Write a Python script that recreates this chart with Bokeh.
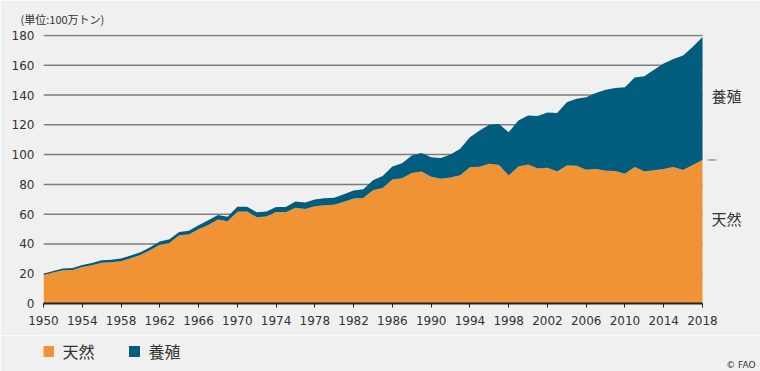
from bokeh.plotting import figure
from bokeh.layouts import column
from bokeh.models import ColumnDataSource, Range1d, FixedTicker, Label
from bokeh.core.properties import value
from bokeh.embed import file_html
from bokeh.resources import INLINE

years = list(range(1950, 2019))

capture = [19.3, 20.8, 22.3, 22.5, 24.5, 25.7, 27.4, 27.7, 28.4, 30.4,
           32.6, 35.8, 39.4, 40.7, 45.8, 46.3, 49.8, 52.8, 56.5, 55.3,
           61.7, 61.8, 58.0, 58.4, 61.4, 61.3, 64.3, 63.5, 65.4, 66.0,
           66.4, 68.4, 70.6, 70.8, 76.0, 77.5, 83.3, 84.2, 87.6, 88.6,
           85.2, 83.8, 84.7, 86.2, 91.5, 91.8, 93.8, 93.1, 86.0, 92.0,
           93.4, 90.6, 91.2, 88.6, 92.7, 92.5, 89.9, 90.4, 89.2, 89.0,
           87.2, 91.7, 88.6, 89.5, 90.4, 91.7, 89.7, 93.0, 96.4]

aquaculture = [0.7, 1.0, 1.2, 1.3, 1.4, 1.5, 1.6, 1.7, 1.9, 1.9,
               1.9, 2.0, 2.2, 2.4, 2.2, 2.5, 2.7, 3.1, 3.0, 3.0,
               3.2, 3.2, 3.3, 3.4, 3.4, 3.5, 4.2, 4.3, 4.4, 4.7,
               4.7, 4.9, 5.3, 6.0, 6.8, 8.2, 8.7, 10.0, 11.8, 12.4,
               13.1, 14.0, 15.3, 17.8, 20.2, 24.4, 26.2, 27.4, 29.0, 30.9,
               32.9, 35.4, 37.0, 39.4, 42.5, 45.1, 48.7, 51.0, 54.3, 55.8,
               58.1, 60.1, 64.1, 67.5, 70.8, 72.6, 76.8, 79.5, 82.6]

series_names = ["天然", "養殖"]
y_ticks = [0, 20, 40, 60, 80, 100, 120, 140, 160, 180]
x_ticks = list(range(1950, 2019, 4))
unit_text = "(単位:100万トン)"
credit_text = "© FAO"

ORANGE = "#F09334"
TEAL = "#005D7E"
BG = "#F0F0F0"
TXT = "#333333"
CJK = "Noto Sans CJK JP"

# layout geometry (pixels)
W, H = 760, 371
H_MAIN = 335
LEFT, RIGHT_DATA, TOP, BOTTOM = 43, 702, 34, 303
px_per_year = (RIGHT_DATA - LEFT) / (years[-1] - years[0])
px_per_unit = (BOTTOM - 35) / y_ticks[-1]
x_end = years[-1] + (W - RIGHT_DATA) / px_per_year
y_end = y_ticks[-1] + (35 - TOP) / px_per_unit

source = ColumnDataSource(data=dict(year=years, capture=capture, aqua=aquaculture))

p = figure(width=W, height=H_MAIN, output_backend="svg", toolbar_location=None,
           x_range=Range1d(years[0], x_end), y_range=Range1d(0, y_end),
           min_border_left=LEFT, min_border_right=0, min_border_top=TOP,
           min_border_bottom=H_MAIN - BOTTOM)
p.background_fill_color = BG
p.border_fill_color = BG
p.outline_line_color = None

# title = unit
p.title.text = unit_text
p.title.align = "left"
p.title.offset = -23
p.title.standoff = 15
p.title.text_font = CJK
p.title.text_font_size = "11px"
p.title.text_font_style = "normal"
p.title.text_color = TXT

# manual grid limited to the data span
grid_y = y_ticks[1:]
p.segment(x0=[years[0]] * len(grid_y), x1=[years[-1]] * len(grid_y), y0=grid_y, y1=grid_y,
          line_color="#7d7d7d", line_width=1.5)

renderers = p.varea_stack(["capture", "aqua"], x="year", color=[ORANGE, TEAL], source=source)

p.xgrid.visible = False
p.ygrid.visible = False

p.yaxis.ticker = FixedTicker(ticks=y_ticks)
p.yaxis.axis_line_color = None
p.yaxis.major_tick_line_color = None
p.yaxis.minor_tick_line_color = None
p.yaxis.major_label_standoff = 3
p.yaxis.major_label_text_font = "DejaVu Sans"
p.yaxis.major_label_text_font_size = "12px"
p.yaxis.major_label_text_color = TXT

p.xaxis.ticker = FixedTicker(ticks=x_ticks)
p.xaxis.bounds = (years[0], years[-1])
p.xaxis.axis_line_color = "#222222"
p.xaxis.axis_line_width = 2
p.xaxis.major_tick_line_color = "#222222"
p.xaxis.major_tick_line_width = 1
p.xaxis.major_tick_in = 0
p.xaxis.major_tick_out = 4
p.xaxis.minor_tick_line_color = None
p.xaxis.major_label_standoff = 8
p.xaxis.major_label_text_font = "DejaVu Sans"
p.xaxis.major_label_text_font_size = "12px"
p.xaxis.major_label_text_color = TXT

# right-side series labels
p.add_layout(Label(x=years[-1] + 9 / px_per_year, y=139.7, text=series_names[1],
                   text_font=CJK, text_font_size="15px", text_color=TXT,
                   text_baseline="middle"))
p.add_layout(Label(x=years[-1] + 9 / px_per_year, y=57.1, text=series_names[0],
                   text_font=CJK, text_font_size="15px", text_color=TXT,
                   text_baseline="middle"))

# small dash marking latest capture value
p.segment(x0=[years[-1] + 5 / px_per_year], x1=[years[-1] + 14 / px_per_year],
          y0=[capture[-1]], y1=[capture[-1]], line_color="#777777", line_width=1)

# ---- bottom strip: legend + credit (frame aligned with main frame: x in page px) ----
H_LEG = H - H_MAIN
p2 = figure(width=W, height=H_LEG, output_backend="svg", toolbar_location=None,
            x_range=Range1d(LEFT, W), y_range=Range1d(0, H_LEG),
            x_axis_type=None, y_axis_type=None,
            min_border_left=LEFT, min_border_right=0, min_border_top=0, min_border_bottom=0)
p2.background_fill_color = BG
p2.border_fill_color = BG
p2.outline_line_color = None
p2.xgrid.visible = False
p2.ygrid.visible = False

LEG_Y = H - 351
sw_x = [LEFT + 5, LEFT + 91]
p2.scatter(x=sw_x, y=[LEG_Y, LEG_Y], marker="square", size=11,
           fill_color=[ORANGE, TEAL], line_color=None)
p2.text(x=[x + 14 for x in sw_x], y=[LEG_Y + 1, LEG_Y + 1], text=series_names,
        text_font=value(CJK), text_font_size="16px", text_color=TXT,
        text_baseline="middle", text_align="left")

p2.add_layout(Label(x=W - 5, y=7, text=credit_text, text_font="DejaVu Sans",
                    text_font_size="9px", text_color=TXT, text_align="right",
                    text_baseline="middle"))

layout = column(p, p2, spacing=0)
open("out.html", "w").write(file_html(layout, INLINE))
